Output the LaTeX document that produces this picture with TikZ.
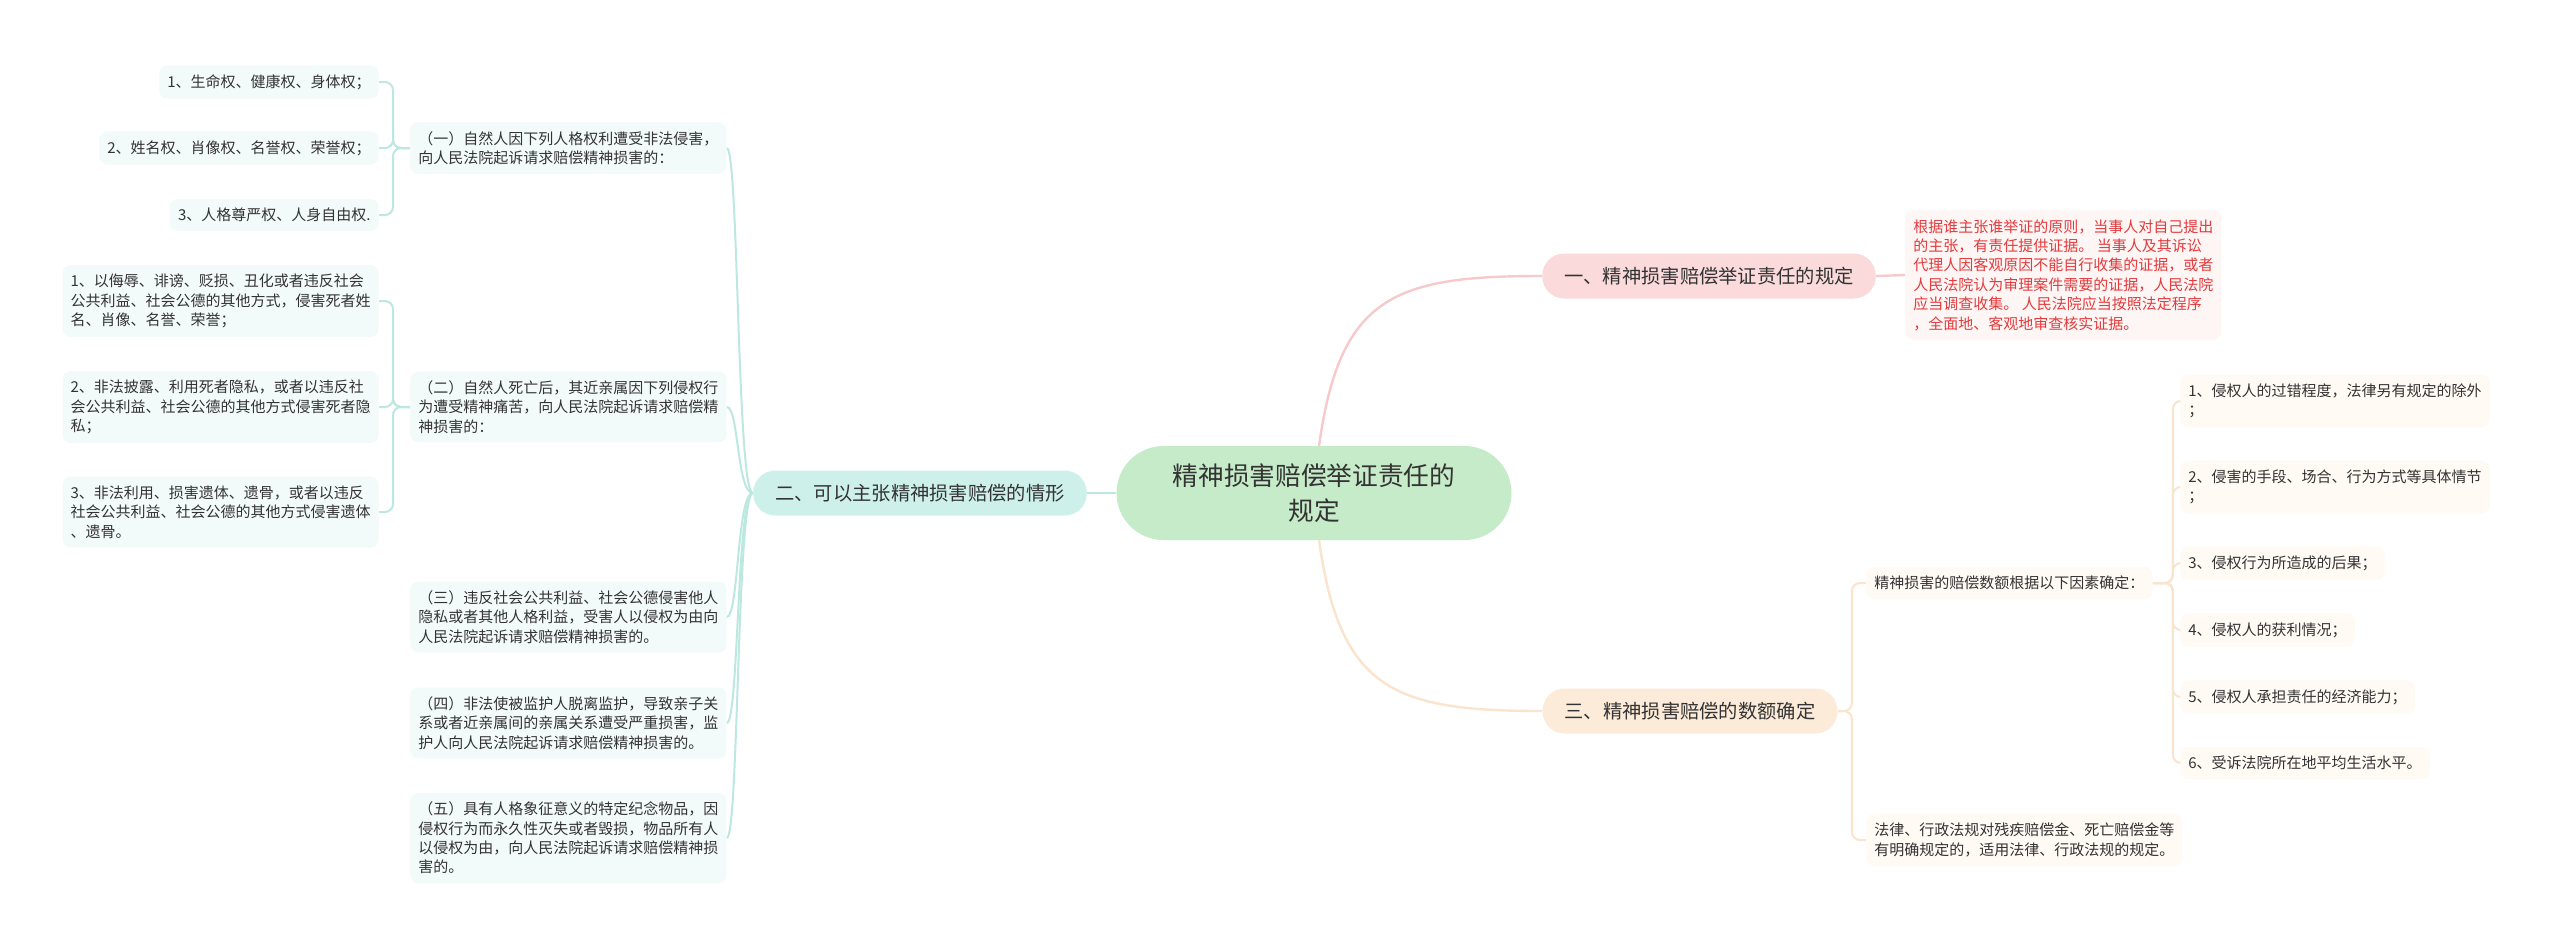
\documentclass[tikz,border=0pt]{standalone}
\usepackage{fontspec}
\setmainfont{Noto Sans CJK SC}
\usetikzlibrary{calc}
\definecolor{ctext}{HTML}{333333}
\definecolor{cred}{HTML}{E23B3D}
\definecolor{rootfill}{HTML}{C6EBC9}
\definecolor{pinkfill}{HTML}{FADADB}
\definecolor{tealfill}{HTML}{CEF0EA}
\definecolor{peachfill}{HTML}{FDEBD9}
\definecolor{tealbg}{HTML}{F3FBFA}
\definecolor{peachbg}{HTML}{FFFAF4}
\definecolor{redbg}{HTML}{FEF5F5}
\definecolor{tealline}{HTML}{BDE8E0}
\definecolor{pinkline}{HTML}{F6CACC}
\definecolor{peachline}{HTML}{FBE4CD}
\pgfdeclarelayer{bg}
\pgfdeclarelayer{edges}
\pgfsetlayers{bg,edges,main}
\begin{document}
\begin{tikzpicture}[x=0.5pt,y=-0.5pt,
  rootbox/.style={rectangle, rounded corners=23.5pt, fill=rootfill, minimum width=197.5pt, minimum height=47pt, inner sep=0pt, align=center, text=ctext, font=\fontsize{12.85pt}{17.5pt}\selectfont},
  lone/.style={rectangle, rounded corners=11pt, inner xsep=11pt, inner ysep=0pt, minimum height=22.5pt, text=ctext, font=\fontsize{9.65pt}{12pt}\selectfont},
  leaf/.style={rectangle, rounded corners=4pt, inner xsep=4pt, inner ysep=4.5pt, align=left, text=ctext, font=\fontsize{7.5pt}{9.7pt}\selectfont},
  lleaf/.style={leaf, fill=tealbg},
  rleaf/.style={leaf, fill=peachbg},
  tl/.style={draw=tealline, line width=1pt},
  tlbig/.style={draw=tealline, line width=1.4pt},
  pl/.style={draw=pinkline, line width=1.2pt},
  ol/.style={draw=peachline, line width=1pt},
  olbig/.style={draw=peachline, line width=1.2pt}
]
\useasboundingbox (0,0) rectangle (2560,949);
\begin{pgfonlayer}{bg}
\fill[white] (0,0) rectangle (2560,949);
\end{pgfonlayer}

% root and main branches
\node[rootbox] (root) at (1314,493) {精神损害赔偿举证责任的\\规定};
\node[lone, fill=pinkfill] (b1) at (1709,276) {一、精神损害赔偿举证责任的规定};
\node[lone, fill=tealfill] (b2) at (920,493) {二、可以主张精神损害赔偿的情形};
\node[lone, fill=peachfill] (b3) at (1690,711) {三、精神损害赔偿的数额确定};

% branch one
\node[leaf, fill=redbg, text=cred, anchor=west] (red) at (1905,275) {根据谁主张谁举证的原则，当事人对自己提出\\的主张，有责任提供证据。 当事人及其诉讼\\代理人因客观原因不能自行收集的证据，或者\\人民法院认为审理案件需要的证据，人民法院\\应当调查收集。 人民法院应当按照法定程序\\，全面地、客观地审查核实证据。};

% branch two
\node[lleaf, anchor=west] (a1) at (410,148) {（一）自然人因下列人格权利遭受非法侵害，\\向人民法院起诉请求赔偿精神损害的：};
\node[lleaf, anchor=west] (a2) at (410,407) {（二）自然人死亡后，其近亲属因下列侵权行\\为遭受精神痛苦，向人民法院起诉请求赔偿精\\神损害的：};
\node[lleaf, anchor=west] (a3) at (410,617) {（三）违反社会公共利益、社会公德侵害他人\\隐私或者其他人格利益，受害人以侵权为由向\\人民法院起诉请求赔偿精神损害的。};
\node[lleaf, anchor=west] (a4) at (410,723) {（四）非法使被监护人脱离监护，导致亲子关\\系或者近亲属间的亲属关系遭受严重损害，监\\护人向人民法院起诉请求赔偿精神损害的。};
\node[lleaf, anchor=west] (a5) at (410,838) {（五）具有人格象征意义的特定纪念物品，因\\侵权行为而永久性灭失或者毁损，物品所有人\\以侵权为由，向人民法院起诉请求赔偿精神损\\害的。};

\node[lleaf, anchor=east] (a11) at (379,82) {1、生命权、健康权、身体权；};
\node[lleaf, anchor=east] (a12) at (379,148) {2、姓名权、肖像权、名誉权、荣誉权；};
\node[lleaf, anchor=east] (a13) at (379,215) {3、人格尊严权、人身自由权.};

\node[lleaf, anchor=east] (a21) at (379,301) {1、以侮辱、诽谤、贬损、丑化或者违反社会\\公共利益、社会公德的其他方式，侵害死者姓\\名、肖像、名誉、荣誉；};
\node[lleaf, anchor=east] (a22) at (379,407) {2、非法披露、利用死者隐私，或者以违反社\\会公共利益、社会公德的其他方式侵害死者隐\\私；};
\node[lleaf, anchor=east] (a23) at (379,512) {3、非法利用、损害遗体、遗骨，或者以违反\\社会公共利益、社会公德的其他方式侵害遗体\\、遗骨。};

% branch three
\node[rleaf, anchor=west] (c0) at (1866,583) {精神损害的赔偿数额根据以下因素确定：};
\node[rleaf, anchor=west] (c7) at (1866,840) {法律、行政法规对残疾赔偿金、死亡赔偿金等\\有明确规定的，适用法律、行政法规的规定。};

\node[rleaf, anchor=west] (c1) at (2180,401) {1、侵权人的过错程度，法律另有规定的除外\\；};
\node[rleaf, anchor=west] (c2) at (2180,487) {2、侵害的手段、场合、行为方式等具体情节\\；};
\node[rleaf, anchor=west] (c3) at (2180,563) {3、侵权行为所造成的后果；};
\node[rleaf, anchor=west] (c4) at (2180,630) {4、侵权人的获利情况；};
\node[rleaf, anchor=west] (c5) at (2180,697) {5、侵权人承担责任的经济能力；};
\node[rleaf, anchor=west] (c6) at (2180,763) {6、受诉法院所在地平均生活水平。};

\begin{pgfonlayer}{edges}
\draw[pl] (root.center) .. controls (1330,300) and (1380,276) .. (b1.west);
\draw[olbig] (root.center) .. controls (1330,686) and (1380,711) .. (b3.west);
\draw[tlbig] (root.west) -- (b2.east);
\draw[pl] (b1.east) -- (red.west);
\foreach \c in {a1,a2,a3,a4,a5}
  \draw[tl] (b2.west) .. controls +(-16,0) and +(12,0) .. (\c.east);
\foreach \c in {a11,a12,a13}
  \draw[tl, rounded corners=4pt] (a1.west) -- ++(-17,0) |- (\c.east);
\foreach \c in {a21,a22,a23}
  \draw[tl, rounded corners=4pt] (a2.west) -- ++(-17,0) |- (\c.east);
\foreach \c in {c0,c7}
  \draw[ol, rounded corners=4pt] (b3.east) -- ++(14,0) |- (\c.west);
\foreach \c in {c1,c2,c3,c4,c5,c6}
  \draw[ol, rounded corners=4pt] (c0.east) -- ++(20,0) |- (\c.west);
\end{pgfonlayer}
\end{tikzpicture}
\end{document}
